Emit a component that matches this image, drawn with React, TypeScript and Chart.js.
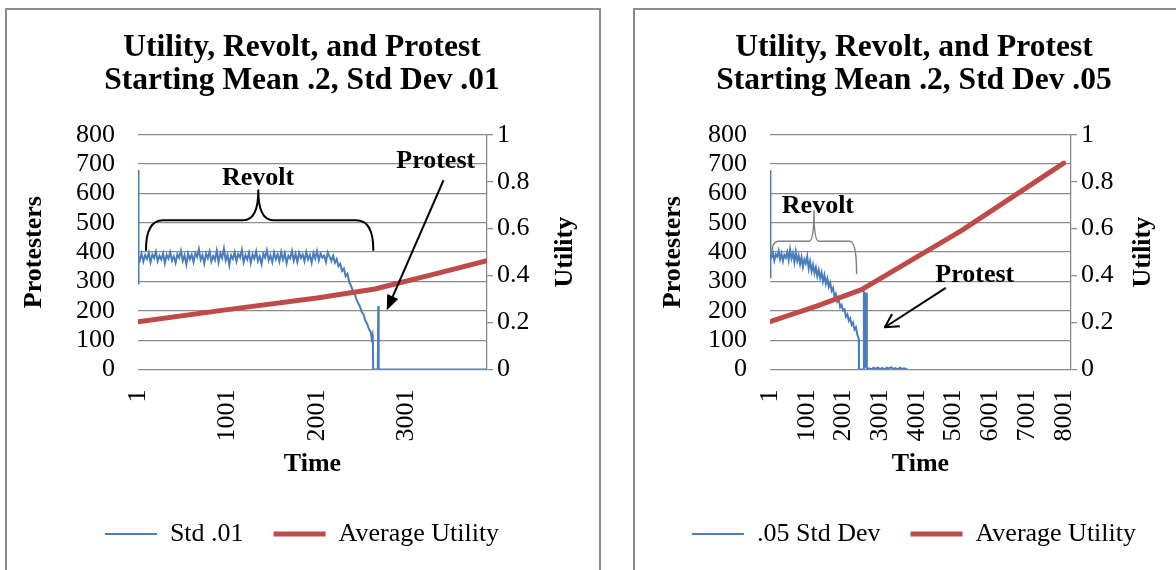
import React, { useEffect, useRef } from 'react';
import { Chart, registerables } from 'chart.js';

Chart.register(...registerables);

const FONT = 'Liberation Serif';
const BLUE = '#4a7ebb';
const RED = '#be4b48';
const GRID = '#8c8c8c';

// ---------------- Left chart: Std Dev .01 ----------------
const TITLE_01 = ['Utility, Revolt, and Protest', 'Starting Mean .2, Std Dev .01'];
const BLUE_LABEL_01 = 'Std .01';
const X_TICKS_01 = [1, 1001, 2001, 3001];
const X_MAX_01 = 3900;

const STD01_HEAD_T = [1, 3, 10];
const STD01_HEAD_V = [680, 290, 384];
const STD01_SAMPLE_START = 21;
const STD01_SAMPLE_STEP = 20;
const STD01_SAMPLED_V = [
  372, 395, 368, 390, 377, 398, 366, 392, 380, 401,
  369, 388, 375, 396, 362, 391, 378, 399, 371, 386,
  364, 393, 381, 404, 370, 389, 358, 395, 376, 392,
  367, 397, 383, 410, 374, 390, 361, 394, 379, 402,
  368, 387, 373, 405, 365, 396, 380, 412, 372, 391,
  356, 389, 377, 400, 369, 394, 382, 408, 366, 390,
  375, 398, 363, 392, 378, 403, 370, 386, 359, 395,
  381, 406, 372, 389, 366, 399, 376, 393, 368, 401,
  374, 396, 362, 388, 379, 404, 371, 394, 367, 398,
  380, 392, 369, 400, 375, 390, 364, 397, 378, 403,
  372, 395, 381, 388, 366, 399,
  385, 370, 388, 364, 376, 352, 360, 336, 344, 318,
  326, 298, 286, 268, 258, 240, 226, 214, 196, 188,
  166, 156, 138, 128,
];
const STD01_TAIL_T = [2611, 2621, 2625, 2628, 2680, 2685, 2690, 3900];
const STD01_TAIL_V = [106, 118, 98, 0, 0, 216, 0, 0];

const UTIL01_T = [1, 1000, 2000, 2648, 3300, 3900];
const UTIL01_V = [0.203, 0.255, 0.305, 0.343, 0.405, 0.464];

// ---------------- Right chart: Std Dev .05 ----------------
const TITLE_05 = ['Utility, Revolt, and Protest', 'Starting Mean .2, Std Dev .05'];
const BLUE_LABEL_05 = '.05 Std Dev';
const X_TICKS_05 = [1, 1001, 2001, 3001, 4001, 5001, 6001, 7001, 8001];
const X_MAX_05 = 8200;

const STD05_HEAD_T = [1, 6, 20];
const STD05_HEAD_V = [680, 310, 385];
const STD05_SAMPLE_START = 41;
const STD05_SAMPLE_STEP = 39;
const STD05_SAMPLED_V = [
  382, 398, 371, 392, 385, 404, 376, 395, 369, 390,
  381, 400, 373, 409, 378, 396, 366, 401, 370, 388,
  359, 383, 350, 375, 362, 386, 344, 368, 335, 357,
  328, 348, 318, 339, 312, 331, 300, 322, 292, 310,
  282, 296, 268, 278, 248, 258, 231, 238, 212, 220,
  201, 205, 180, 188, 166, 174, 152, 160, 136, 144,
  118, 104,
];
const STD05_TAIL_T = [
  2425, 2550, 2558, 2575, 2598, 2620, 2638, 2642, 2700, 2760, 2820, 2880, 2940,
  3000, 3060, 3120, 3180, 3240, 3300, 3360, 3420, 3480, 3540, 3600, 3660, 3720, 3760,
];
const STD05_TAIL_V = [
  0, 0, 264, 260, 6, 262, 255, 0, 4, 0, 6, 2, 7,
  1, 5, 0, 6, 3, 8, 2, 5, 0, 6, 2, 4, 0, 0,
];

const UTIL05_T = [1, 1270, 2495, 5216, 8001];
const UTIL05_V = [0.204, 0.27, 0.34, 0.592, 0.879];

// ---------------- annotations (data coordinates) ----------------
const ANNOT_01 = {
  revolt: [1342, 628],
  brace: { x0: 90, xTip: 1345, x1: 2630, yEnd0: 407, yEnd1: 407, yBar: 509, yTip: 611, rEnd: 17, rTip: 15, color: '#000', width: 2 },
  protest: [3327, 686],
  arrowFrom: [3414, 645],
  arrowTo: [2780, 202],
  arrowOpen: false,
  utilityOffset: 28,
};
const ANNOT_05 = {
  revolt: [1306, 533],
  brace: { x0: 47, xTip: 1198, x1: 2360, yEnd0: 390, yEnd1: 327, yBar: 437, yTip: 540, rEnd: 7, rTip: 5, color: '#808080', width: 1.5 },
  protest: [5580, 299],
  arrowFrom: [4790, 278],
  arrowTo: [3130, 144],
  arrowOpen: true,
  utilityOffset: 46,
};

function buildSeries(headT: number[], headV: number[], start: number, step: number, sampled: number[], tailT: number[], tailV: number[]) {
  const pts: { x: number; y: number }[] = headT.map((t, i) => ({ x: t, y: headV[i] }));
  sampled.forEach((v, i) => pts.push({ x: start + i * step, y: v }));
  tailT.forEach((t, i) => pts.push({ x: t, y: tailV[i] }));
  return pts;
}
function pairs(ts: number[], vs: number[]) {
  return ts.map((t, i) => ({ x: t, y: vs[i] }));
}

function annotationPlugin(a: any) {
  return {
    id: 'annot',
    afterDraw(chart: any) {
      const { ctx, scales, chartArea } = chart;
      const X = (t: number) => scales.x.getPixelForValue(t);
      const Y = (v: number) => scales.y.getPixelForValue(v);
      ctx.save();
      ctx.fillStyle = '#000';
      ctx.font = `bold 26px "${FONT}"`;
      ctx.textAlign = 'center';
      ctx.textBaseline = 'alphabetic';
      ctx.fillText('Revolt', X(a.revolt[0]), Y(a.revolt[1]));
      ctx.fillText('Protest', X(a.protest[0]), Y(a.protest[1]));
      // brace
      const b = a.brace;
      const x0 = X(b.x0), x1 = X(b.x1), xt = X(b.xTip);
      const yb = Y(b.yBar), yt = Y(b.yTip), ye0 = Y(b.yEnd0), ye1 = Y(b.yEnd1);
      ctx.strokeStyle = b.color;
      ctx.lineWidth = b.width;
      ctx.lineCap = 'round';
      ctx.lineJoin = 'round';
      ctx.beginPath();
      ctx.moveTo(x0, ye0);
      ctx.quadraticCurveTo(x0, yb, x0 + b.rEnd, yb);
      ctx.lineTo(xt - b.rTip, yb);
      ctx.quadraticCurveTo(xt, yb, xt, yt);
      ctx.quadraticCurveTo(xt, yb, xt + b.rTip, yb);
      ctx.lineTo(x1 - b.rEnd, yb);
      ctx.quadraticCurveTo(x1, yb, x1, ye1);
      ctx.stroke();
      // arrow
      const ax0 = X(a.arrowFrom[0]), ay0 = Y(a.arrowFrom[1]);
      const ax1 = X(a.arrowTo[0]), ay1 = Y(a.arrowTo[1]);
      const ang = Math.atan2(ay1 - ay0, ax1 - ax0);
      const headLen = 15;
      ctx.strokeStyle = '#000';
      ctx.fillStyle = '#000';
      ctx.lineWidth = 2;
      ctx.lineCap = 'butt';
      ctx.beginPath();
      if (a.arrowOpen) {
        ctx.moveTo(ax0, ay0);
        ctx.lineTo(ax1, ay1);
        ctx.stroke();
        ctx.beginPath();
        ctx.moveTo(ax1 - headLen * Math.cos(ang - 0.5), ay1 - headLen * Math.sin(ang - 0.5));
        ctx.lineTo(ax1, ay1);
        ctx.lineTo(ax1 - headLen * Math.cos(ang + 0.5), ay1 - headLen * Math.sin(ang + 0.5));
        ctx.stroke();
      } else {
        ctx.moveTo(ax0, ay0);
        ctx.lineTo(ax1 - (headLen - 2) * Math.cos(ang), ay1 - (headLen - 2) * Math.sin(ang));
        ctx.stroke();
        ctx.beginPath();
        ctx.moveTo(ax1, ay1);
        ctx.lineTo(ax1 - headLen * Math.cos(ang) + 6 * Math.sin(ang), ay1 - headLen * Math.sin(ang) - 6 * Math.cos(ang));
        ctx.lineTo(ax1 - headLen * Math.cos(ang) - 6 * Math.sin(ang), ay1 - headLen * Math.sin(ang) + 6 * Math.cos(ang));
        ctx.closePath();
        ctx.fill();
      }
      // right axis title (reads bottom to top)
      const y1 = scales.y1;
      ctx.translate(y1.right - a.utilityOffset, (chartArea.top + chartArea.bottom) / 2);
      ctx.rotate(-Math.PI / 2);
      ctx.textAlign = 'center';
      ctx.textBaseline = 'middle';
      ctx.fillText('Utility', 0, 0);
      ctx.restore();
    },
  };
}

type Cfg = {
  left: number; top: number; w: number; h: number;
  title: string[]; blueLabel: string;
  blue: { x: number; y: number }[]; red: { x: number; y: number }[];
  xTicks: number[]; xMax: number;
  yW: number; yTitlePad: number; y1W: number;
  annot: any;
};

const LEFT: Cfg = {
  left: 7, top: 10, w: 590, h: 560,
  title: TITLE_01, blueLabel: BLUE_LABEL_01,
  blue: buildSeries(STD01_HEAD_T, STD01_HEAD_V, STD01_SAMPLE_START, STD01_SAMPLE_STEP, STD01_SAMPLED_V, STD01_TAIL_T, STD01_TAIL_V),
  red: pairs(UTIL01_T, UTIL01_V),
  xTicks: X_TICKS_01, xMax: X_MAX_01,
  yW: 127, yTitlePad: 7.4, y1W: 106,
  annot: ANNOT_01,
};
const RIGHT: Cfg = {
  left: 635, top: 10, w: 558, h: 560,
  title: TITLE_05, blueLabel: BLUE_LABEL_05,
  blue: buildSeries(STD05_HEAD_T, STD05_HEAD_V, STD05_SAMPLE_START, STD05_SAMPLE_STEP, STD05_SAMPLED_V, STD05_TAIL_T, STD05_TAIL_V),
  red: pairs(UTIL05_T, UTIL05_V),
  xTicks: X_TICKS_05, xMax: X_MAX_05,
  yW: 131, yTitlePad: 18.9, y1W: 118,
  annot: ANNOT_05,
};

function buildConfig(c: Cfg): any {
  const tickFont = { family: FONT, size: 26 };
  const axisTitleFont = { family: FONT, size: 26, weight: 'bold' };
  return {
    type: 'line',
    data: {
      datasets: [
        {
          label: c.blueLabel, data: c.blue, yAxisID: 'y',
          borderColor: BLUE, backgroundColor: BLUE, borderWidth: 2,
          pointRadius: 0, tension: 0, order: 2, borderCapStyle: 'butt',
        },
        {
          label: 'Average Utility', data: c.red, yAxisID: 'y1',
          borderColor: RED, backgroundColor: RED, borderWidth: 5,
          pointRadius: 0, tension: 0, order: 1, borderCapStyle: 'round', borderJoinStyle: 'round',
        },
      ],
    },
    options: {
      responsive: false,
      animation: false,
      events: [],
      layout: { padding: { left: 4, right: 4, top: 0, bottom: 13 } },
      plugins: {
        title: {
          display: true, text: c.title, color: '#000',
          font: { family: FONT, size: 31.5, weight: 'bold', lineHeight: 1.06 },
          padding: { top: 21, bottom: 37 },
        },
        legend: {
          position: 'bottom',
          labels: {
            color: '#000', font: { family: FONT, size: 26 },
            usePointStyle: true, pointStyle: 'line', pointStyleWidth: 52, padding: 30,
            sort: (a: any, b: any) => a.datasetIndex - b.datasetIndex,
          },
        },
        tooltip: { enabled: false },
      },
      scales: {
        x: {
          type: 'linear', min: 1, max: c.xMax,
          afterBuildTicks: (s: any) => { s.ticks = c.xTicks.map((v) => ({ value: v })); },
          afterFit: (s: any) => { s.height = 121.5; },
          grid: { display: false },
          border: { display: false },
          ticks: {
            autoSkip: false, minRotation: 90, maxRotation: 90, padding: 12,
            color: '#000', font: tickFont, callback: (v: any) => String(v),
          },
          title: { display: true, text: 'Time', color: '#000', font: axisTitleFont, padding: { top: 0, bottom: 11 } },
        },
        y: {
          position: 'left', min: 0, max: 800,
          afterFit: (s: any) => { s.width = c.yW; },
          ticks: { stepSize: 100, autoSkip: false, padding: 23, color: '#000', font: tickFont },
          grid: { color: GRID, lineWidth: 1.3, drawTicks: false },
          border: { display: false },
          title: { display: true, text: 'Protesters', color: '#000', font: axisTitleFont, padding: { top: c.yTitlePad, bottom: 0 } },
        },
        y1: {
          position: 'right', min: 0, max: 1,
          afterFit: (s: any) => { s.width = c.y1W; },
          ticks: {
            stepSize: 0.2, autoSkip: false, padding: 4, color: '#000', font: tickFont,
            callback: (v: any) => String(Math.round(Number(v) * 10) / 10),
          },
          grid: { drawOnChartArea: false, drawTicks: true, tickLength: 6, color: GRID, lineWidth: 1.3 },
          border: { display: true, color: GRID, width: 1.3 },
          title: { display: false },
        },
      },
    },
    plugins: [annotationPlugin(c.annot)],
  };
}

function ChartCanvas({ cfg }: { cfg: Cfg }) {
  const ref = useRef<HTMLCanvasElement>(null);
  useEffect(() => {
    const chart = new Chart(ref.current as HTMLCanvasElement, buildConfig(cfg));
    return () => chart.destroy();
  }, [cfg]);
  return (
    <canvas
      ref={ref}
      width={cfg.w}
      height={cfg.h}
      style={{ position: 'absolute', left: cfg.left, top: cfg.top, width: cfg.w, height: cfg.h }}
    />
  );
}

export default function App() {
  return (
    <div style={{ position: 'fixed', left: 0, top: 0, width: 1176, height: 570, overflow: 'hidden', background: '#fff' }}>
      <div style={{ position: 'absolute', left: 5, top: 8, width: 596, height: 640, border: '2px solid #8c8c8c', boxSizing: 'border-box' }} />
      <div style={{ position: 'absolute', left: 633, top: 8, width: 600, height: 640, border: '2px solid #8c8c8c', boxSizing: 'border-box' }} />
      <ChartCanvas cfg={LEFT} />
      <ChartCanvas cfg={RIGHT} />
    </div>
  );
}
